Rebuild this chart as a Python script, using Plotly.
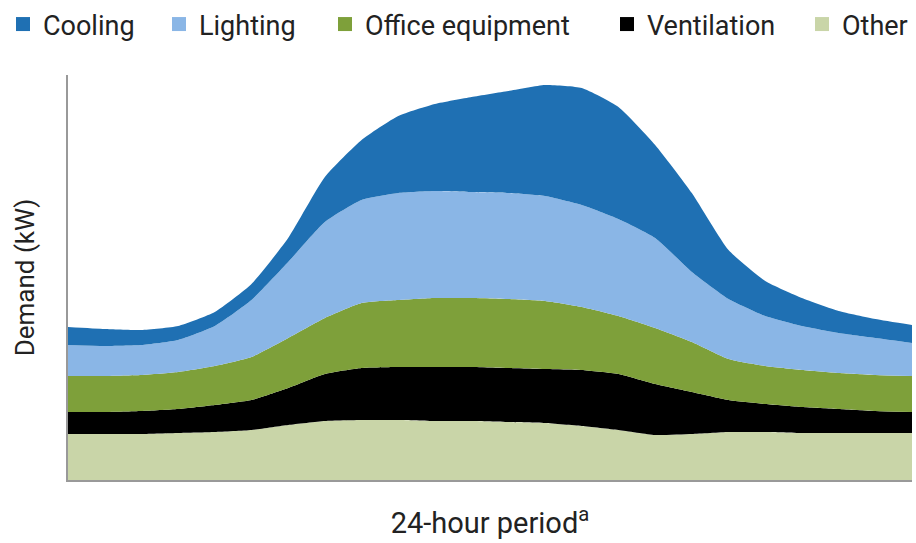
import plotly.graph_objects as go

hours = list(range(24))
series_names = ["Cooling", "Lighting", "Office equipment", "Ventilation", "Other"]

# Demand by end use (relative kW), stacked bottom→top: Other, Ventilation, Office, Lighting, Cooling
other = [46, 46, 46, 47, 48, 50, 55, 59, 60, 60, 59, 59, 58, 57, 54, 50, 45, 46, 48, 48, 47, 47, 47, 47]
ventilation = [22, 22, 23, 24, 27, 30, 37, 47, 52, 53, 54, 54, 54, 54, 56, 56, 51, 42, 32, 28, 26, 24, 22, 21]
office = [36, 36, 36, 37, 39, 43, 50, 56, 65, 67, 69, 69, 69, 68, 63, 58, 56, 50, 41, 38, 37, 36, 36, 36]
lighting = [31, 30, 30, 32, 40, 57, 76, 96, 103, 107, 107, 106, 106, 105, 102, 97, 90, 70, 60, 50, 44, 40, 37, 33]
cooling = [18, 17, 15, 14, 14, 16, 24, 45, 60, 77, 87, 95, 102, 111, 117, 112, 93, 79, 49, 35, 28, 22, 19, 18]

colors = {
    "Cooling": "#1f70b3",
    "Lighting": "#8ab6e6",
    "Office equipment": "#7ea03a",
    "Ventilation": "#000000",
    "Other": "#c9d5a8",
}

FONT = "Roboto, Liberation Sans, sans-serif"
TXT = "#222222"

fig = go.Figure()
stack_order = [("Other", other), ("Ventilation", ventilation), ("Office equipment", office),
               ("Lighting", lighting), ("Cooling", cooling)]
for name, vals in stack_order:
    fig.add_trace(go.Scatter(
        x=hours, y=vals, name=name, stackgroup="one", mode="lines",
        line=dict(width=0, shape="spline", smoothing=0.5),
        fillcolor=colors[name], showlegend=False, hoverinfo="x+y+name",
    ))

# one legend per entry so each can sit where the reference puts it
legend_x_px = [3, 159, 325, 607, 802]
legend_keys = ["legend", "legend2", "legend3", "legend4", "legend5"]
for name, key in zip(series_names, legend_keys):
    fig.add_trace(go.Scatter(
        x=[None], y=[None], name=name, mode="markers",
        marker=dict(symbol="square", size=14, color=colors[name]),
        showlegend=True, legend=key,
    ))

legend_common = dict(
    orientation="h", xref="container", yref="container",
    y=1.0, xanchor="left", yanchor="top",
    font=dict(family=FONT, size=27, color=TXT),
    bgcolor="rgba(0,0,0,0)", borderwidth=0,
)
layout_legends = {}
for key, px in zip(legend_keys, legend_x_px):
    layout_legends[key] = dict(legend_common, x=px / 916)

fig.update_layout(
    width=916, height=543,
    margin=dict(l=68, r=4, t=75, b=63, autoexpand=False),
    paper_bgcolor="white", plot_bgcolor="white",
    font=dict(family=FONT, size=27, color=TXT),
    showlegend=True,
    **layout_legends,
    xaxis=dict(
        range=[0, 23], showgrid=False, zeroline=False, showticklabels=False, ticks="",
        showline=True, linecolor="#999999", linewidth=2, automargin=False,
        title=dict(text="24-hour period<sup>a</sup>", standoff=32,
                   font=dict(family=FONT, size=29, color=TXT)),
    ),
    yaxis=dict(
        range=[0, 405], showgrid=False, zeroline=False, showticklabels=False, ticks="",
        showline=True, linecolor="#999999", linewidth=2, automargin=False,
        title=dict(text="Demand (kW)", standoff=24,
                   font=dict(family=FONT, size=26, color=TXT)),
    ),
)

fig.write_html("out.html", config={"displayModeBar": False},
               post_script="document.body.style.margin='0px';")
